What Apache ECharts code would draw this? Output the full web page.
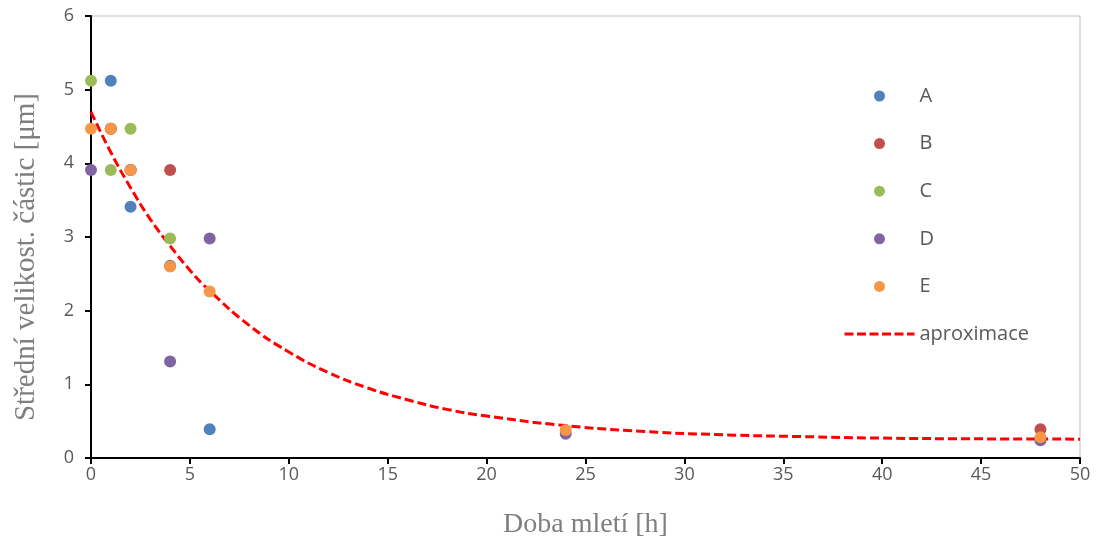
<!DOCTYPE html>
<html>
<head>
<meta charset="utf-8">
<script src="https://cdn.jsdelivr.net/npm/echarts@6/dist/echarts.min.js"></script>
<style>html,body{margin:0;padding:0;background:#fff}#c{width:1098px;height:540px}</style>
</head>
<body>
<div id="c"></div>
<script>
// Data: [doba mletí h, velikost µm]
var seriesNames = ['A', 'B', 'C', 'D', 'E'];
var dataA = [[1, 5.12], [2, 3.41], [4, 2.61], [6, 0.39]];
var dataB = [[1, 4.47], [2, 3.91], [4, 3.91], [48, 0.39]];
var dataC = [[0, 5.12], [1, 3.91], [2, 4.47], [4, 2.98]];
var dataD = [[0, 3.91], [1, 4.47], [2, 3.91], [4, 1.31], [6, 2.98], [24, 0.33], [48, 0.24]];
var dataE = [[0, 4.47], [1, 4.47], [2, 3.91], [4, 2.60], [6, 2.26], [24, 0.38], [48, 0.28]];
var approxX = [0, 1, 2, 3, 4, 5, 6, 8, 10, 12, 14, 16, 18, 20, 24, 28, 32, 36, 40, 45, 50];
var approxY = [4.70, 4.15, 3.67, 3.24, 2.88, 2.55, 2.27, 1.80, 1.44, 1.16, 0.95, 0.79, 0.66, 0.57, 0.44, 0.36, 0.315, 0.29, 0.27, 0.26, 0.256];
var approxName = 'aproximace';
var colors = ['#4F81BD', '#C0504D', '#9BBB59', '#8064A2', '#F79646'];

var allData = [dataA, dataB, dataC, dataD, dataE];
var series = seriesNames.map(function (n, i) {
  return {
    name: n, type: 'scatter', data: allData[i], symbolSize: 12,
    itemStyle: { color: colors[i], opacity: 1 }, clip: false, z: 3 + i
  };
});
series.unshift({
  name: approxName, type: 'line', smooth: true, showSymbol: false, symbol: 'none',
  data: approxX.map(function (x, i) { return [x, approxY[i]]; }),
  lineStyle: { color: '#FF0000', width: 3, type: [9, 4] }, itemStyle: { color: '#FF0000' }, z: 2
});

var chart = echarts.init(document.getElementById('c'), null, { renderer: 'canvas' });
chart.setOption({
  animation: false,
  backgroundColor: '#fff',
  grid: { left: 91, right: 18, top: 16, bottom: 82, show: true, borderColor: '#BFBFBF', borderWidth: 1, containLabel: false, outerBoundsMode: 'none' },
  legend: {
    orient: 'vertical', left: 838, top: 81,
    itemWidth: 70, itemHeight: 11, itemGap: 27.6,
    data: seriesNames.map(function (n) { return { name: n, icon: 'circle' }; }).concat([{
      name: approxName, itemStyle: { opacity: 0 },
      lineStyle: { color: '#FF0000', width: 3, type: [9, 3.5] }
    }]),
    textStyle: { fontFamily: 'Open Sans', fontSize: 20, color: '#595959', lineHeight: 20 }
  },
  xAxis: {
    type: 'value', min: 0, max: 50, interval: 5,
    name: 'Doba mletí [h]', nameLocation: 'middle', nameGap: 53,
    nameTextStyle: { fontFamily: 'Liberation Serif', fontSize: 28, color: '#7F7F7F' },
    axisLine: { show: true, lineStyle: { color: '#000', width: 2 } },
    axisTick: { show: true, length: 6, lineStyle: { color: '#000', width: 2 } },
    axisLabel: { fontFamily: 'Open Sans', fontSize: 18, color: '#595959', margin: 8 },
    splitLine: { show: false }
  },
  yAxis: {
    type: 'value', min: 0, max: 6, interval: 1,
    name: 'Střední velikost. částic [μm]', nameLocation: 'middle', nameGap: 50,
    nameTextStyle: { fontFamily: 'Liberation Serif', fontSize: 29, color: '#7F7F7F', padding: [0, 40, 0, 0] },
    axisLine: { show: true, lineStyle: { color: '#000', width: 2 } },
    axisTick: { show: true, length: 6, lineStyle: { color: '#000', width: 2 } },
    axisLabel: { fontFamily: 'Open Sans', fontSize: 18, color: '#595959', margin: 17 },
    splitLine: { show: false }
  },
  series: series
});
</script>
</body>
</html>
